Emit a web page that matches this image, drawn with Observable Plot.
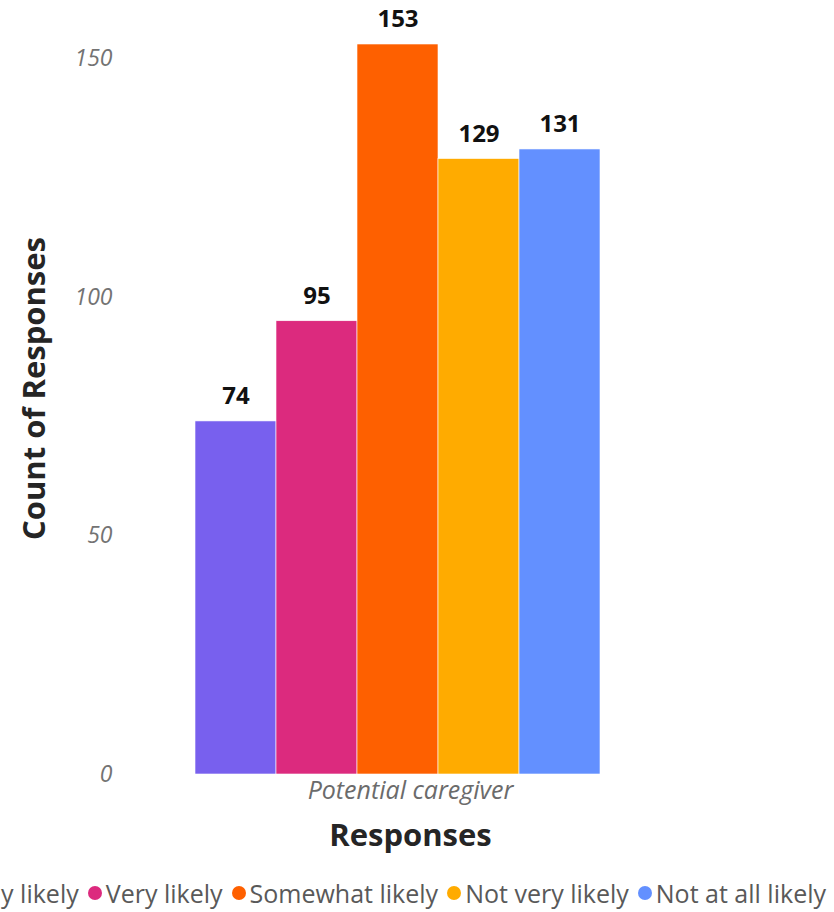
<!DOCTYPE html>
<html>
<head>
<meta charset="utf-8">
<script src="https://cdn.jsdelivr.net/npm/d3@7"></script>
<script src="https://cdn.jsdelivr.net/npm/@observablehq/plot@0.6"></script>
<style>
  html, body { margin: 0; padding: 0; background: #fff; width: 834px; height: 912px; overflow: hidden; }
  #chart svg { display: block; }
  #legendWrap { position: relative; width: 834px; height: 42px; overflow: hidden; }
  #legend {
    position: absolute; right: 8px; top: 4px; height: 38px;
    display: flex; align-items: center;
    white-space: nowrap; font-family: "Open Sans", sans-serif; font-size: 25px; color: #595959;
  }
  .item { display: inline-flex; align-items: center; margin-left: 9px; flex-shrink: 0; }
  .dot { width: 14px; height: 14px; border-radius: 50%; margin-right: 4px; display: inline-block; }
</style>
</head>
<body>
<div id="chart"></div>
<div id="legendWrap"><div id="legend"></div></div>
<script>
const categories = ["Extremely likely", "Very likely", "Somewhat likely", "Not very likely", "Not at all likely"];
const counts = [74, 95, 153, 129, 131];
const colors = ["#7860ee", "#dc2a7e", "#fe6000", "#ffab00", "#6390ff"];
const yTicks = [0, 50, 100, 150];
const groupLabel = "Potential caregiver";
const yTitle = "Count of Responses";
const xTitle = "Responses";

const data = categories.map((c, i) => ({category: c, count: counts[i]}));
const font = "'Open Sans', sans-serif";

const chart = Plot.plot({
  width: 834,
  height: 870,
  marginLeft: 194,
  marginRight: 234,
  marginTop: 44,
  marginBottom: 96,
  style: {fontFamily: font, background: "white"},
  x: {domain: categories, padding: 0, axis: null},
  y: {domain: [0, 153], nice: false, axis: null},
  color: {domain: categories, range: colors},
  marks: [
    Plot.axisY({ticks: yTicks, tickSize: 0, tickPadding: 82, label: null, fontSize: 23, fontStyle: "italic", fill: "#737373", textAnchor: "end"}),
    Plot.barY(data, {x: "category", y: "count", fill: "category", stroke: "white", strokeWidth: 0.6}),
    Plot.text(data, {x: "category", y: "count", text: d => String(d.count), dy: -25, fontSize: 24, fontWeight: "bold", fill: "#111"}),
    Plot.text([groupLabel], {frameAnchor: "bottom", dx: 13, dy: 24, fontSize: 25, fontStyle: "italic", fill: "#6b6b6b"}),
    Plot.text([xTitle], {frameAnchor: "bottom", dx: 13, dy: 71, fontSize: 31, fontWeight: "bold", fill: "#252525"}),
    Plot.text([yTitle], {frameAnchor: "left", textAnchor: "middle", rotate: -90, dx: -159, dy: -21, fontSize: 31, fontWeight: "bold", fill: "#252525"})
  ]
});
document.getElementById("chart").appendChild(chart);

const legend = document.getElementById("legend");
categories.forEach((c, i) => {
  const item = document.createElement("span");
  item.className = "item";
  const dot = document.createElement("span");
  dot.className = "dot";
  dot.style.background = colors[i];
  item.appendChild(dot);
  item.appendChild(document.createTextNode(c));
  legend.appendChild(item);
});
</script>
</body>
</html>
